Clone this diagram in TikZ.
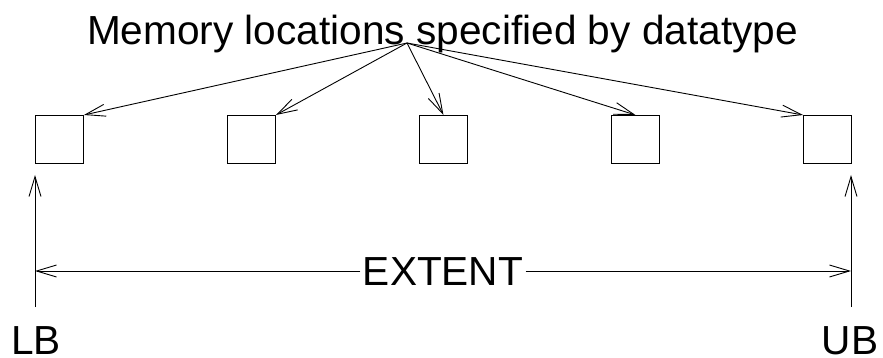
\documentclass[tikz,border=0pt]{standalone}
\usepackage{fontspec}
\setmainfont{Liberation Sans}
\usetikzlibrary{arrows.meta}
\begin{document}
\begin{tikzpicture}[x=1pt,y=-1pt,line width=0.9pt,
  cell/.style={draw,rectangle,minimum size=48pt,inner sep=0pt,anchor=north west},
  lbl/.style={font=\fontsize{40.6}{48}\selectfont,inner sep=1pt,anchor=base},
  arr/.style={-{Straight Barb[length=20pt,width=12pt,line width=0.9pt]}}]
\useasboundingbox (0,0) rectangle (883,358);
\node[lbl] (title) at (442.5,45) {Memory locations specified by datatype};
\coordinate (src) at (407,43);
\node[cell] (b1) at (35,115) {};
\node[cell] (b2) at (227,115) {};
\node[cell] (b3) at (419,115) {};
\node[cell] (b4) at (611,115) {};
\node[cell] (b5) at (803,115) {};
\draw[arr] (src) -- (b1.north east);
\draw[arr] (src) -- (b2.north east);
\draw[arr] (src) -- (b3.north);
\draw[arr] (src) -- (b4.north);
\draw[arr] (src) -- (b5.north west);
\coordinate (lbBot) at (35,307);
\coordinate (lbTop) at (35,175);
\coordinate (ubBot) at (851,307);
\coordinate (ubTop) at (851,175);
\draw[arr] (lbBot) -- (lbTop);
\draw[arr] (ubBot) -- (ubTop);
\node[lbl,inner sep=2pt] (ext) at (443,285) {EXTENT};
\coordinate (lm) at (35,271);
\coordinate (rm) at (851,271);
\draw[arr] (ext.west |- lm) -- (lm);
\draw[arr] (ext.east |- rm) -- (rm);
\node[lbl] (lb) at (36,354) {LB};
\node[lbl] (ub) at (850,354) {UB};
\end{tikzpicture}
\end{document}
